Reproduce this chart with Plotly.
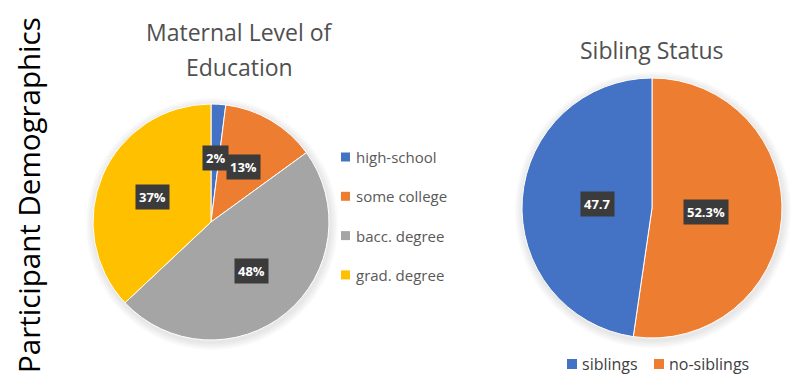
import math
import plotly.graph_objects as go

# ---------------- data ----------------
edu_categories = ["high-school", "some college", "bacc. degree", "grad. degree"]
edu_values = [2, 13, 48, 37]
edu_text = ["2%", "13%", "48%", "37%"]

sib_categories = ["siblings", "no-siblings"]
sib_values = [47.7, 52.3]
sib_text = ["47.7", "52.3%"]

edu_colors = ["#4472C4", "#ED7D31", "#A5A5A5", "#FFC000"]
sib_colors = ["#4472C4", "#ED7D31"]

W, H = 804, 386
FONT = "Open Sans"
GRAY = "#595959"

# pie geometry (pixels)
L_CX, L_CY, L_R = 211, 222, 118
R_CX, R_CY, R_R = 652, 208, 130


def px(x):
    return x / W


def py(y):
    return 1 - y / H


def domain(cx, cy, r):
    return dict(x=[px(cx - r), px(cx + r)], y=[py(cy + r), py(cy - r)])


annotations = []
shapes = []

# soft shadows behind pies
for cx, cy, r in [(L_CX, L_CY, L_R), (R_CX, R_CY, R_R)]:
    for d in (2, 4, 6, 8):
        shapes.append(dict(type="circle", xref="paper", yref="paper", layer="below",
                           x0=px(cx - r - d + 1), x1=px(cx + r + d + 1),
                           y0=py(cy + r + d + 2), y1=py(cy - r - d + 2),
                           fillcolor="rgba(0,0,0,0.025)", line=dict(width=0)))

fig = go.Figure()
fig.add_trace(go.Pie(
    labels=edu_categories, values=edu_values, sort=False, direction="clockwise",
    rotation=0, marker=dict(colors=edu_colors, line=dict(color="white", width=1)),
    textinfo="none", domain=domain(L_CX, L_CY, L_R), showlegend=False))

# sibling pie: drawn clockwise from 12 o'clock in reverse order
sib_cat_r = sib_categories[::-1]
sib_val_r = sib_values[::-1]
sib_col_r = sib_colors[::-1]
sib_txt_r = sib_text[::-1]
fig.add_trace(go.Pie(
    labels=sib_cat_r, values=sib_val_r, sort=False, direction="clockwise",
    rotation=0, marker=dict(colors=sib_col_r, line=dict(color="white", width=1)),
    textinfo="none", domain=domain(R_CX, R_CY, R_R), showlegend=False))


def add_labels(values, texts, cx, cy, r, k):
    total = sum(values)
    cum = 0
    for v, t in zip(values, texts):
        mid = (cum + v / 2) / total * 2 * math.pi
        cum += v
        x = cx + k * r * math.sin(mid)
        y = cy - k * r * math.cos(mid)
        annotations.append(dict(
            x=px(x), y=py(y), xref="paper", yref="paper", text="<b>" + t + "</b>",
            showarrow=False, font=dict(family=FONT, size=13, color="white"),
            bgcolor="#3b3b3b", borderpad=3, xanchor="center", yanchor="middle"))


add_labels(edu_values, edu_text, L_CX, L_CY, L_R, 0.54)
add_labels(sib_val_r, sib_txt_r, R_CX, R_CY, R_R, 0.42)

# left legend (vertical)
LEG_X, LEG_Y0, LEG_DY, SQ = 341, 157, 39.3, 9
for i, (c, col) in enumerate(zip(edu_categories, edu_colors)):
    yc = LEG_Y0 + i * LEG_DY
    shapes.append(dict(type="rect", xref="paper", yref="paper",
                       x0=px(LEG_X), x1=px(LEG_X + SQ), y0=py(yc + SQ / 2), y1=py(yc - SQ / 2),
                       fillcolor=col, line=dict(width=0)))
    annotations.append(dict(x=px(LEG_X + SQ + 4), y=py(yc), xref="paper", yref="paper",
                            text=c, showarrow=False, xanchor="left", yanchor="middle",
                            font=dict(family=FONT, size=15, color=GRAY)))

# right legend (horizontal)
RLEG_X = [567, 654]
RLEG_Y, RSQ = 364, 10
for c, col, x0 in zip(sib_categories, sib_colors, RLEG_X):
    shapes.append(dict(type="rect", xref="paper", yref="paper",
                       x0=px(x0), x1=px(x0 + RSQ), y0=py(RLEG_Y + RSQ / 2), y1=py(RLEG_Y - RSQ / 2),
                       fillcolor=col, line=dict(width=0)))
    annotations.append(dict(x=px(x0 + RSQ + 3), y=py(RLEG_Y), xref="paper", yref="paper",
                            text=c, showarrow=False, xanchor="left", yanchor="middle",
                            font=dict(family=FONT, size=16, color="#404040")))

# titles
for txt, x, y in [("Maternal Level of", 240, 32), ("Education", 240, 67), ("Sibling Status", 652, 50)]:
    annotations.append(dict(x=px(x), y=py(y), xref="paper", yref="paper", text=txt,
                            showarrow=False, xanchor="center", yanchor="middle",
                            font=dict(family=FONT, size=23, color="#505050")))
annotations.append(dict(x=px(28), y=py(195), xref="paper", yref="paper",
                        text="Participant Demographics", textangle=-90,
                        showarrow=False, xanchor="center", yanchor="middle",
                        font=dict(family=FONT, size=29.5, color="black")))

fig.update_layout(width=W, height=H, margin=dict(l=0, r=0, t=0, b=0),
                  paper_bgcolor="white", plot_bgcolor="white",
                  annotations=annotations, shapes=shapes)

fig.write_html("out.html")
